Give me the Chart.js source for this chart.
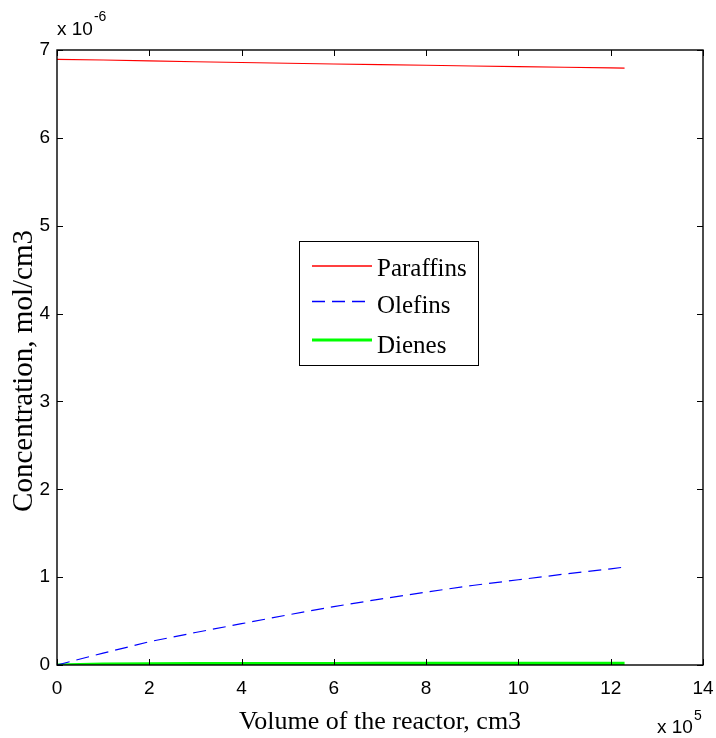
<!DOCTYPE html>
<html>
<head>
<meta charset="utf-8">
<script src="https://cdn.jsdelivr.net/npm/chart.js@4/dist/chart.umd.min.js"></script>
<style>
  html, body { margin: 0; padding: 0; background: #fff; }
  #wrap { width: 716px; height: 738px; position: relative; }
</style>
</head>
<body>
<div id="wrap"><canvas id="c" width="716" height="738"></canvas></div>
<script>
// Reactor volume (x 10^5 cm3)
const volume = [0, 1, 2, 3, 4, 5, 6, 7, 8, 9, 10, 11, 12, 12.3];
// Concentrations (x 10^-6 mol/cm3)
const paraffins = [6.893, 6.886, 6.876, 6.866, 6.857, 6.849, 6.841, 6.833, 6.826, 6.818, 6.811, 6.803, 6.796, 6.794];
const olefins   = [0, 0.135, 0.265, 0.37, 0.47, 0.57, 0.665, 0.75, 0.83, 0.905, 0.97, 1.035, 1.095, 1.115];
const dienes    = [0, 0.010, 0.013, 0.015, 0.016, 0.017, 0.017, 0.018, 0.018, 0.018, 0.019, 0.019, 0.019, 0.019];
const seriesNames = ['Paraffins', 'Olefins', 'Dienes'];
const seriesColors = ['#ff0000', '#0000ff', '#00ff00'];
// Tick values
const xTicks = [0, 2, 4, 6, 8, 10, 12, 14];
const yTicks = [0, 1, 2, 3, 4, 5, 6, 7];
const xExponent = '5';
const yExponent = '-6';
const xTitle = 'Volume of the reactor, cm3';
const yTitle = 'Concentration, mol/cm3';

const toPts = ys => volume.map((v, i) => ({ x: v, y: ys[i] }));

const boxPlugin = {
  id: 'matlabBox',
  afterDatasetsDraw(chart) {
    const { ctx, chartArea: a, scales: { x, y } } = chart;
    ctx.save();
    ctx.strokeStyle = '#000';
    ctx.lineWidth = 1.4;
    ctx.strokeRect(a.left, a.top, a.right - a.left, a.bottom - a.top);
    ctx.lineWidth = 1;
    const tl = 6;
    ctx.beginPath();
    xTicks.forEach(v => {
      const px = Math.round(x.getPixelForValue(v)) + 0.5;
      ctx.moveTo(px, a.bottom); ctx.lineTo(px, a.bottom - tl);
      ctx.moveTo(px, a.top); ctx.lineTo(px, a.top + tl);
    });
    yTicks.forEach(v => {
      const py = Math.round(y.getPixelForValue(v)) + 0.5;
      ctx.moveTo(a.left, py); ctx.lineTo(a.left + tl, py);
      ctx.moveTo(a.right, py); ctx.lineTo(a.right - tl, py);
    });
    ctx.stroke();
    ctx.restore();
  },
  afterDraw(chart) {
    const { ctx, chartArea: a } = chart;
    ctx.save();
    ctx.fillStyle = '#000';
    // y-axis title
    ctx.save();
    ctx.translate(32, 371);
    ctx.rotate(-Math.PI / 2);
    ctx.textAlign = 'center';
    ctx.textBaseline = 'alphabetic';
    ctx.font = '29px "Liberation Serif", "Times New Roman", serif';
    ctx.fillText(yTitle, 0, 0);
    ctx.restore();
    // exponent labels
    ctx.textBaseline = 'middle';
    ctx.textAlign = 'left';
    ctx.font = '19px "Liberation Sans", Arial, sans-serif';
    const yl = 'x 10';
    ctx.fillText(yl, a.left, 30);
    const w1 = ctx.measureText(yl).width;
    ctx.font = '14px "Liberation Sans", Arial, sans-serif';
    ctx.fillText(yExponent, a.left + w1 + 1, 17);
    ctx.font = '19px "Liberation Sans", Arial, sans-serif';
    const xl = 'x 10';
    const w2 = ctx.measureText(xl).width;
    ctx.fillText(xl, 657, 728);
    ctx.font = '14px "Liberation Sans", Arial, sans-serif';
    ctx.fillText(xExponent, 657 + w2 + 1, 716);

    // legend
    const bx = 299.5, by = 241.5, bw = 179, bh = 124;
    ctx.fillStyle = '#fff';
    ctx.fillRect(bx, by, bw, bh);
    ctx.strokeStyle = '#000';
    ctx.lineWidth = 1;
    ctx.strokeRect(bx, by, bw, bh);
    const rows = [266, 301.5, 340];
    const bases = [276, 313, 353];
    const widths = [1.4, 1.3, 3.2];
    seriesNames.forEach((name, i) => {
      ctx.beginPath();
      ctx.strokeStyle = seriesColors[i];
      ctx.lineWidth = widths[i];
      ctx.setLineDash(i === 1 ? [13, 7] : []);
      ctx.moveTo(312, rows[i]);
      ctx.lineTo(372, rows[i]);
      ctx.stroke();
      ctx.setLineDash([]);
      ctx.fillStyle = '#000';
      ctx.font = '25px "Liberation Serif", "Times New Roman", serif';
      ctx.textBaseline = 'alphabetic';
      ctx.fillText(name, 377, bases[i]);
    });
    ctx.restore();
  }
};

new Chart(document.getElementById('c'), {
  type: 'line',
  data: {
    datasets: [
      { label: seriesNames[0], data: toPts(paraffins), borderColor: seriesColors[0], borderWidth: 1.1, pointRadius: 0, tension: 0, fill: false },
      { label: seriesNames[1], data: toPts(olefins), borderColor: seriesColors[1], borderWidth: 1.2, borderDash: [13, 7], pointRadius: 0, tension: 0, fill: false },
      { label: seriesNames[2], data: toPts(dienes), borderColor: seriesColors[2], borderWidth: 3.2, pointRadius: 0, tension: 0, fill: false }
    ]
  },
  options: {
    responsive: false,
    animation: false,
    events: [],
    layout: { padding: { top: 50, right: 13, bottom: 0, left: 0 } },
    plugins: { legend: { display: false }, tooltip: { enabled: false } },
    scales: {
      x: {
        type: 'linear', min: 0, max: 14,
        afterBuildTicks: s => { s.ticks = xTicks.map(v => ({ value: v })); },
        afterFit: s => { s.height = 73; s.paddingLeft = 0; s.paddingRight = 0; },
        grid: { display: false, drawTicks: false },
        border: { display: false },
        ticks: { color: '#000', padding: 12, font: { family: '"Liberation Sans", Arial, sans-serif', size: 19 }, maxRotation: 0, autoSkip: false },
        title: { display: true, text: xTitle, color: '#000', padding: { top: 0, bottom: 0 }, font: { family: '"Liberation Serif", "Times New Roman", serif', size: 26 } }
      },
      y: {
        type: 'linear', min: 0, max: 7,
        afterBuildTicks: s => { s.ticks = yTicks.map(v => ({ value: v })); },
        afterFit: s => { s.width = 57; s.paddingTop = 0; s.paddingBottom = 0; },
        grid: { display: false, drawTicks: false },
        border: { display: false },
        ticks: { color: '#000', padding: 7, font: { family: '"Liberation Sans", Arial, sans-serif', size: 19 }, autoSkip: false },
        title: { display: false, text: yTitle }
      }
    }
  },
  plugins: [boxPlugin]
});
</script>
</body>
</html>
